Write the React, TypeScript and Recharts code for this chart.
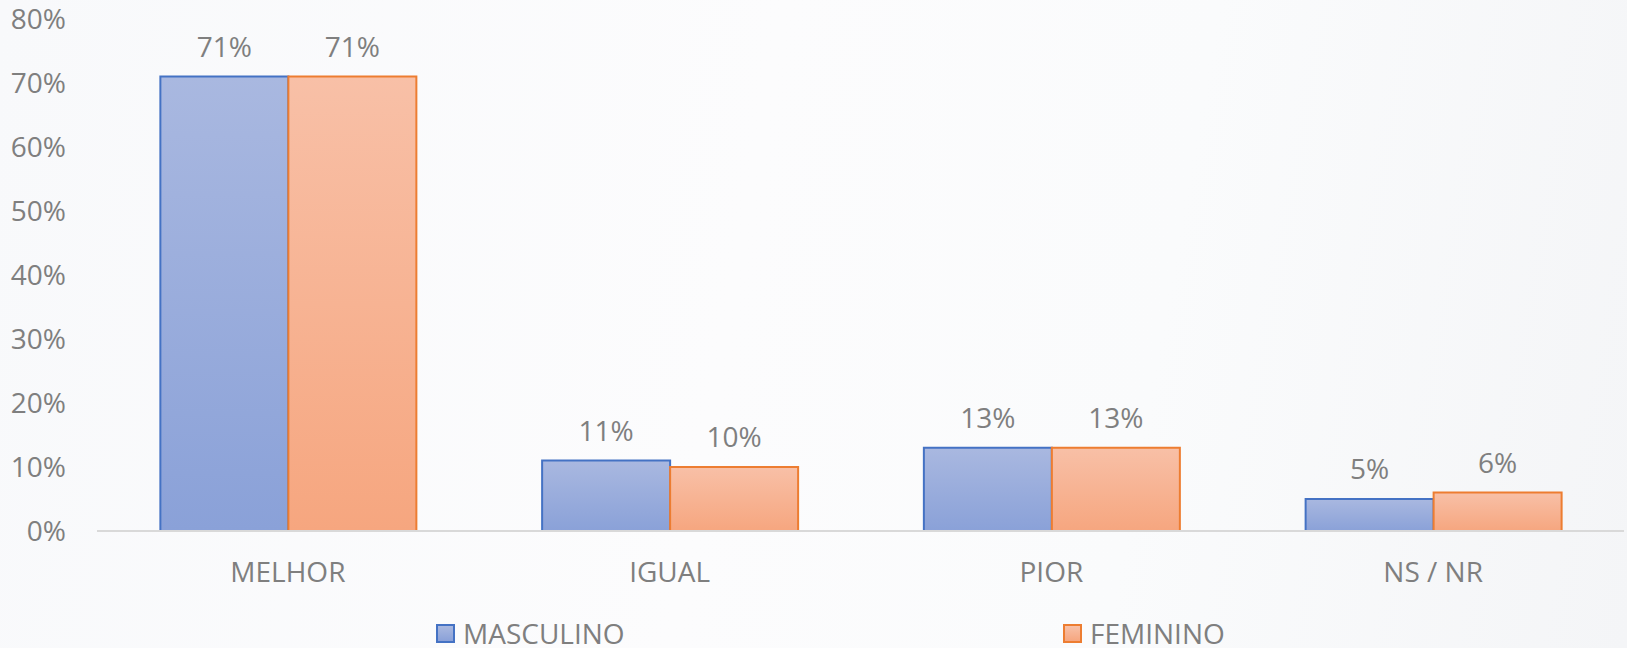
import React from 'react';
import { BarChart, Bar, XAxis, YAxis, Legend, LabelList } from 'recharts';

const categories = ['MELHOR', 'IGUAL', 'PIOR', 'NS / NR'];
const masculino = [71, 11, 13, 5];
const feminino = [71, 10, 13, 6];
const yTicks = [0, 10, 20, 30, 40, 50, 60, 70, 80];

const data = categories.map((c, i) => ({ cat: c, MASCULINO: masculino[i], FEMININO: feminino[i] }));

const FONT = '"Open Sans", "Segoe UI", sans-serif';
const TXT = '#7f7f7f';

const legendItems = [
  { name: 'MASCULINO', stroke: '#4472c4', top: '#a9b8e0', bottom: '#8aa1d8', left: 436 },
  { name: 'FEMININO', stroke: '#ed7d31', top: '#f8c0a7', bottom: '#f6a67f', left: 1063 },
];

const renderLegend = () => (
  <div style={{ position: 'relative', width: 1627, height: 28 }}>
    {legendItems.map((it) => (
      <div
        key={it.name}
        style={{ position: 'absolute', left: it.left, top: 0, height: 28, display: 'flex', alignItems: 'center' }}
      >
        <div
          style={{
            width: 15,
            height: 15,
            border: `2px solid ${it.stroke}`,
            background: `linear-gradient(${it.top}, ${it.bottom})`,
          }}
        />
        <span style={{ marginLeft: 8, fontFamily: FONT, fontSize: 28, color: TXT, lineHeight: '28px' }}>{it.name}</span>
      </div>
    ))}
  </div>
);

export default function App() {
  return (
    <div
      style={{
        position: 'absolute',
        left: 0,
        top: 0,
        width: 1627,
        height: 648,
        background: 'linear-gradient(100deg, #f8f9fb 0%, #fcfcfd 45%, #fafbfc 70%, #f4f5f7 100%)',
      }}
    >
      <BarChart
        width={1627}
        height={648}
        data={data}
        margin={{ top: 19, right: 3, left: 0, bottom: 39 }}
        barCategoryGap="16.6%"
        barGap={0}
      >
        <defs>
          <linearGradient id="gBlue" x1="0" y1="0" x2="0" y2="1">
            <stop offset="0%" stopColor="#a9b8e0" />
            <stop offset="100%" stopColor="#8aa1d8" />
          </linearGradient>
          <linearGradient id="gOrange" x1="0" y1="0" x2="0" y2="1">
            <stop offset="0%" stopColor="#f8c0a7" />
            <stop offset="100%" stopColor="#f6a67f" />
          </linearGradient>
        </defs>
        <XAxis
          dataKey="cat"
          height={50}
          tickSize={0}
          tickMargin={31}
          axisLine={{ stroke: '#d9d9d9', strokeWidth: 2 }}
          tick={{ fill: TXT, fontSize: 28, fontFamily: FONT }}
        />
        <YAxis
          width={97}
          domain={[0, 80]}
          ticks={yTicks}
          tickFormatter={(v) => `${v}%`}
          axisLine={false}
          tickLine={false}
          tickSize={0}
          tickMargin={31}
          tick={{ fill: TXT, fontSize: 28, fontFamily: FONT }}
        />
        <Legend
          verticalAlign="bottom"
          content={renderLegend}
          wrapperStyle={{ top: 619, bottom: 'auto', left: 0, width: 1627, height: 28 }}
        />
        <Bar dataKey="MASCULINO" fill="url(#gBlue)" stroke="#4472c4" strokeWidth={2} isAnimationActive={false}>
          <LabelList
            dataKey="MASCULINO"
            position="top"
            offset={20}
            formatter={(v: number) => `${v}%`}
            style={{ fill: TXT, fontSize: 28, fontFamily: FONT }}
          />
        </Bar>
        <Bar dataKey="FEMININO" fill="url(#gOrange)" stroke="#ed7d31" strokeWidth={2} isAnimationActive={false}>
          <LabelList
            dataKey="FEMININO"
            position="top"
            offset={20}
            formatter={(v: number) => `${v}%`}
            style={{ fill: TXT, fontSize: 28, fontFamily: FONT }}
          />
        </Bar>
      </BarChart>
    </div>
  );
}
